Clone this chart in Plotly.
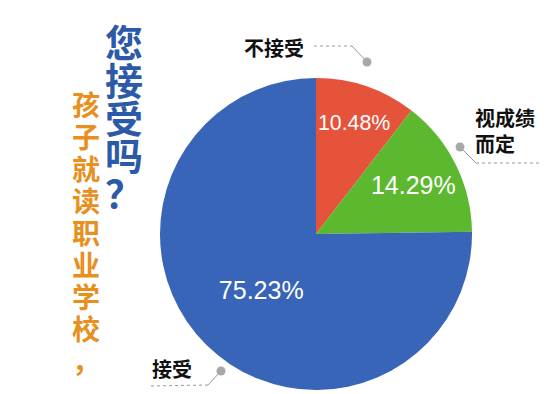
import plotly.graph_objects as go

categories = ["不接受", "视成绩而定", "接受"]
values = [10.48, 14.29, 75.23]
colors = ["#e5533a", "#5cb82f", "#3865b7"]
title_main = ["您", "接", "受", "吗", "？"]
title_sub = ["孩", "子", "就", "读", "职", "业", "学", "校", "，"]

# the page body has an 8px margin, so the figure is drawn 8px in from the corner
OFF = 8
W, H = 554 - OFF, 394 - OFF
CJK = "Noto Sans CJK SC"


def px(x):
    return (x - OFF) / W


def py(y):
    return 1 - (y - OFF) / H


fig = go.Figure()
fig.add_trace(go.Pie(
    labels=categories,
    values=values,
    sort=False,
    direction="clockwise",
    rotation=0,
    marker=dict(colors=colors, line=dict(width=0)),
    texttemplate="%{value:.2f}%",
    textposition="inside",
    insidetextorientation="horizontal",
    textfont=dict(family="Liberation Sans, Arial", size=25, color="white"),
    hoverinfo="label+value",
    showlegend=False,
    domain=dict(x=[px(160), px(472)], y=[py(390), py(78)]),
))

ann = []
for i, ch in enumerate(title_main):
    ann.append(dict(x=px(124), y=py(41 + i * 37.5), xref="paper", yref="paper",
                    text=ch, showarrow=False, xanchor="center", yanchor="middle",
                    font=dict(family=CJK, size=38, color="#2c5aa8", weight="bold")))
for i, ch in enumerate(title_sub):
    ann.append(dict(x=px(86), y=py(104 + i * 32), xref="paper", yref="paper",
                    text=ch, showarrow=False, xanchor="center", yanchor="middle",
                    font=dict(family=CJK, size=28, color="#e8901e", weight="bold")))

lab_font = dict(family=CJK, size=20, color="#111111", weight="bold")
ann.append(dict(x=px(274), y=py(47), xref="paper", yref="paper", text=categories[0],
                showarrow=False, xanchor="center", yanchor="middle", font=lab_font))
ann.append(dict(x=px(473), y=py(130), xref="paper", yref="paper", text="视成绩<br>而定",
                showarrow=False, xanchor="left", yanchor="middle", align="left", font=lab_font))
ann.append(dict(x=px(172), y=py(368), xref="paper", yref="paper", text=categories[2],
                showarrow=False, xanchor="center", yanchor="middle", font=lab_font))

shapes = []
solid = dict(color="#9a9a9a", width=1)
dotted = dict(color="#9a9a9a", width=1, dash="dot")
segs = [
    ((314, 46), (352, 46), dotted),
    ((352, 46), (367, 62), solid),
    ((460, 147), (476, 163), solid),
    ((476, 163), (542, 163), dotted),
    ((221, 371), (208, 385), solid),
    ((208, 385), (150, 386), dotted),
]
for (x0, y0), (x1, y1), ln in segs:
    shapes.append(dict(type="line", xref="paper", yref="paper",
                       x0=px(x0), y0=py(y0), x1=px(x1), y1=py(y1), line=ln))
for (cx, cy) in [(367, 62), (460, 147), (221, 371)]:
    shapes.append(dict(type="circle", xref="paper", yref="paper",
                       x0=px(cx - 4.5), x1=px(cx + 4.5), y0=py(cy + 4.5), y1=py(cy - 4.5),
                       fillcolor="#a8a8a8", line=dict(width=0)))

fig.update_layout(
    width=W, height=H,
    margin=dict(l=0, r=0, t=0, b=0),
    paper_bgcolor="white", plot_bgcolor="white",
    annotations=ann, shapes=shapes,
)

fig.write_html("out.html")
